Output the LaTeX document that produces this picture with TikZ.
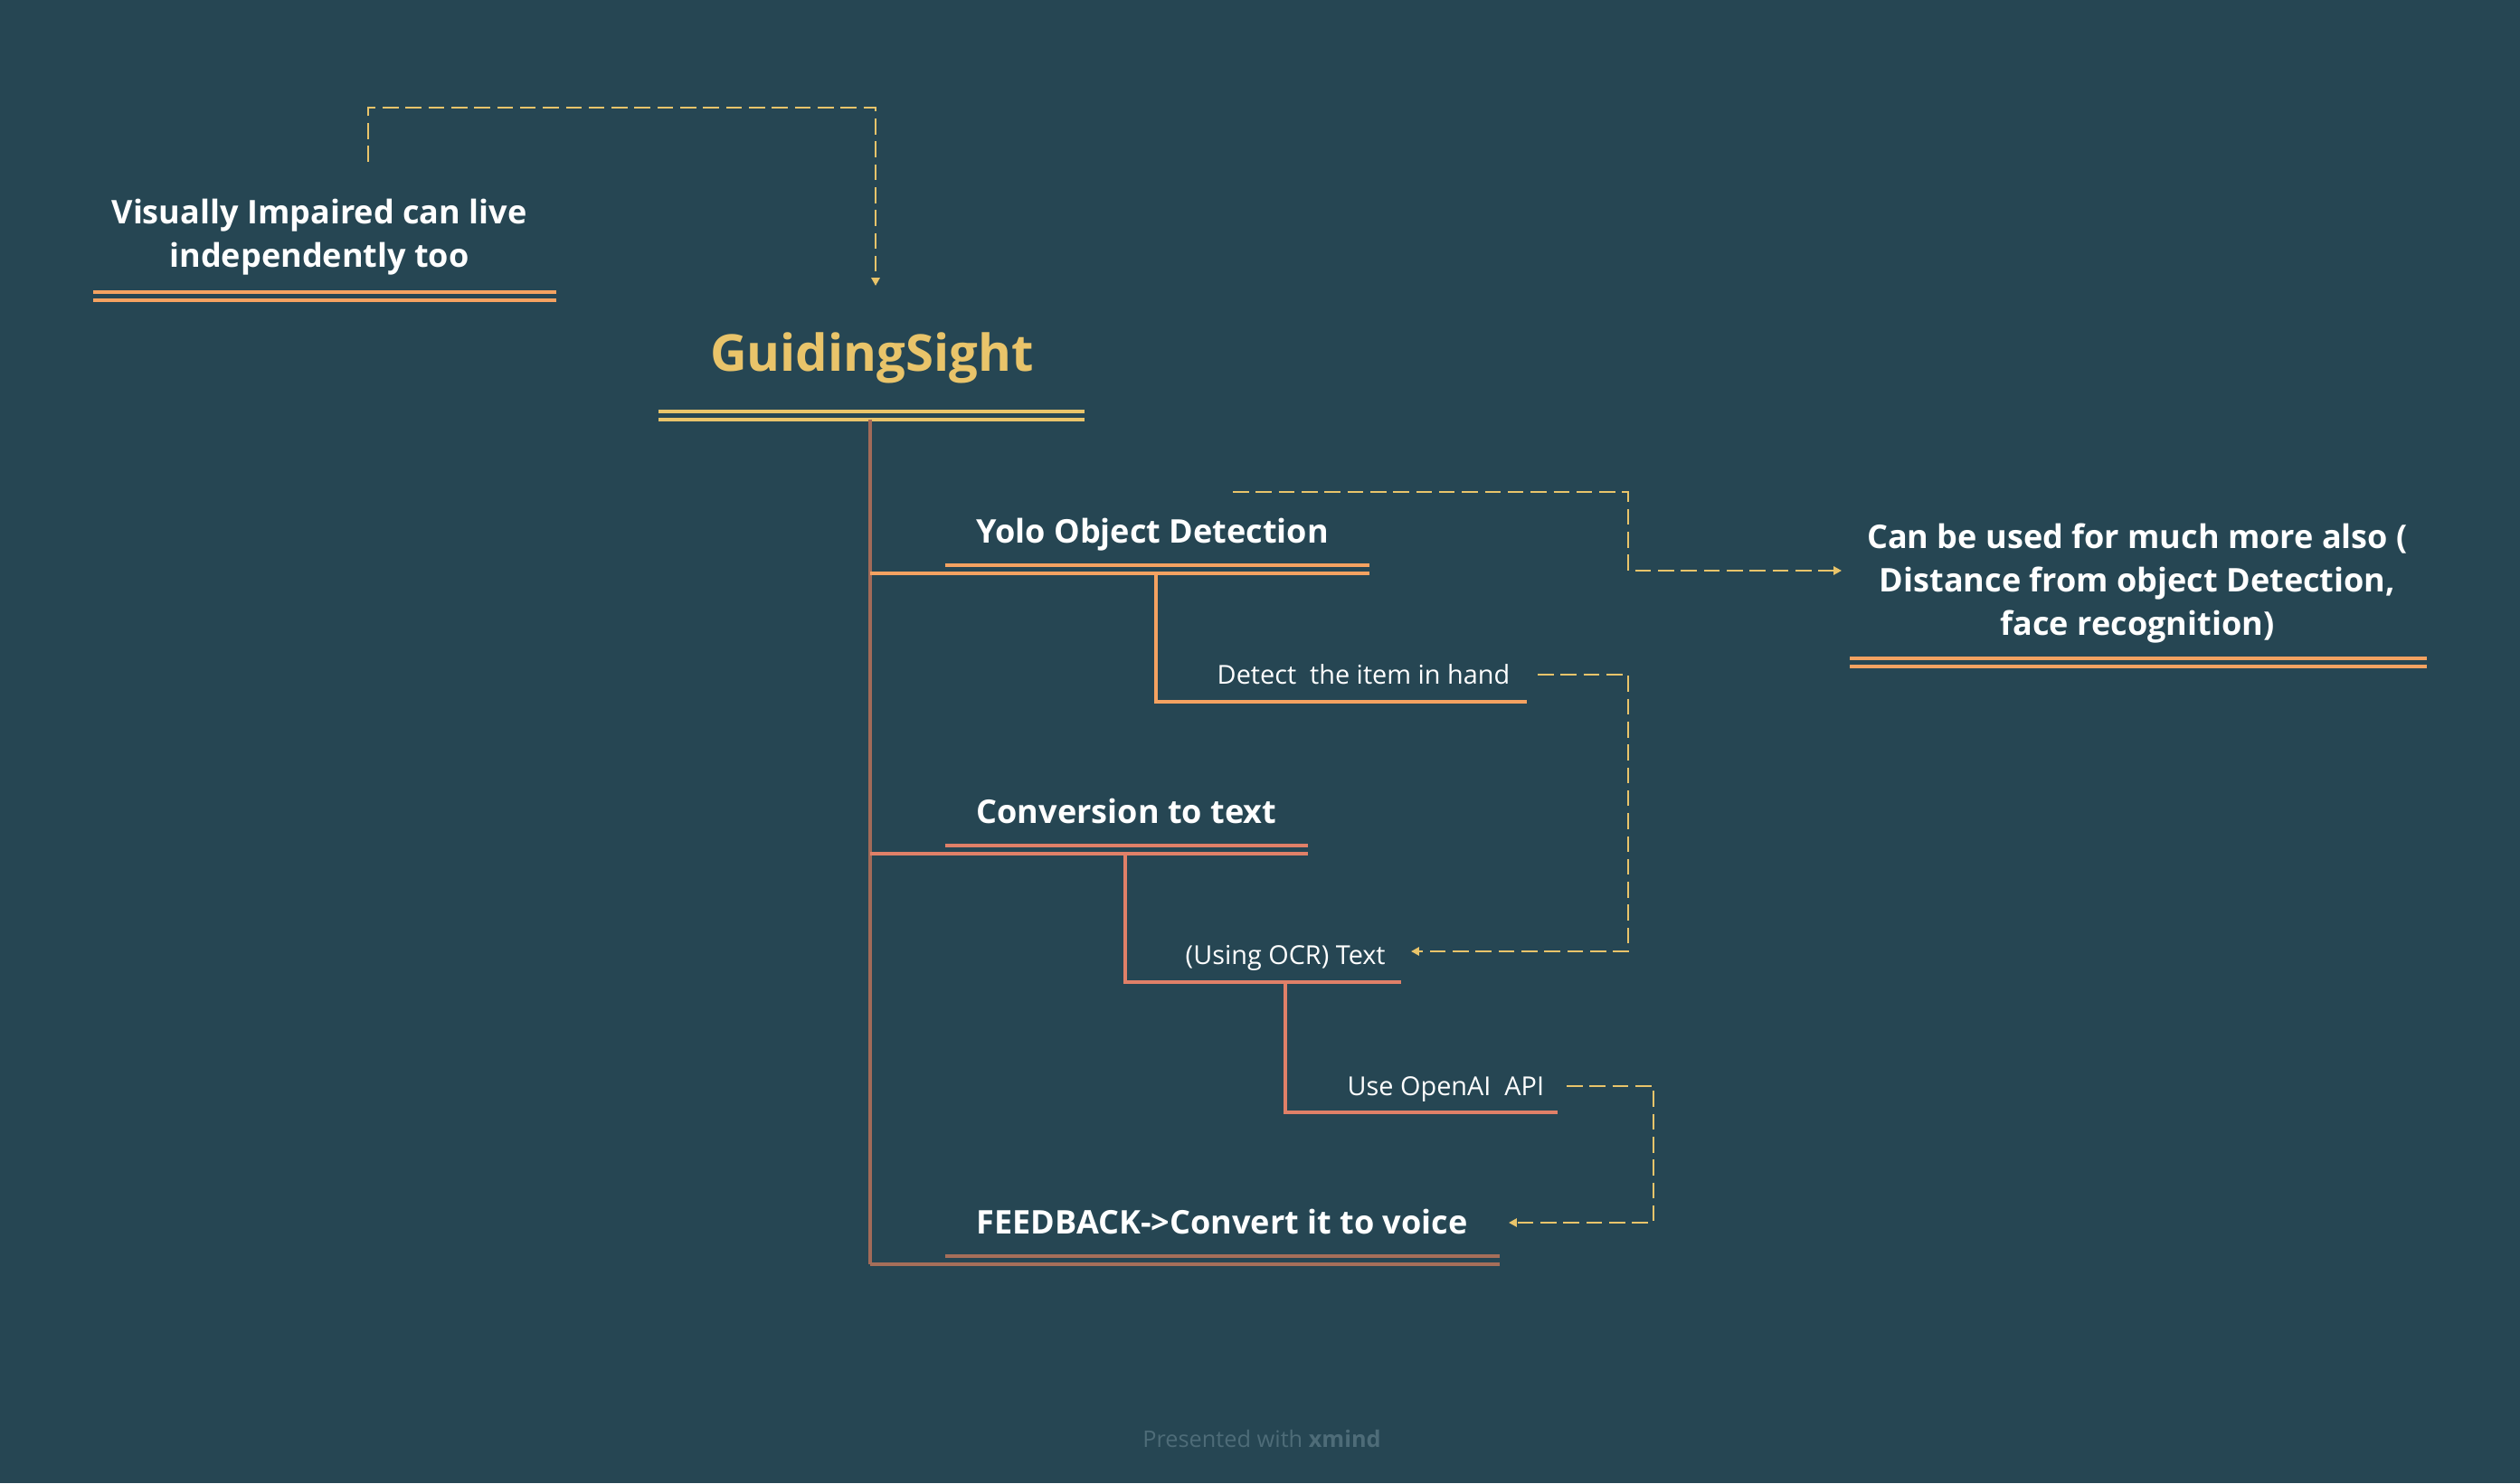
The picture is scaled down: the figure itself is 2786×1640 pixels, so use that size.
\documentclass[tikz,border=0pt]{standalone}
\usepackage{fontspec}
\setmainfont{Open Sans}
\usetikzlibrary{arrows.meta}
\definecolor{bg}{RGB}{38,70,83}
\definecolor{gold}{RGB}{233,196,106}
\definecolor{orng}{RGB}{244,162,97}
\definecolor{salmon}{RGB}{224,128,104}
\definecolor{brownish}{RGB}{166,111,90}
\definecolor{trunkc}{RGB}{163,106,88}
\definecolor{foot}{RGB}{78,108,120}
\begin{document}
\begin{tikzpicture}[x=0.01cm,y=-0.01cm,
  main/.style={font=\bfseries\fontsize{10.25}{13.7}\selectfont, text=white, align=center, inner sep=0},
  subtopic/.style={font=\fontsize{8.2}{10}\selectfont, text=white, inner sep=0},
  link/.style={draw=gold, line width=0.55pt, dash pattern=on 5pt off 2.2pt, -{Triangle[length=2.5pt,width=2.6pt]}},
  ul/.style={line width=1.2pt},
  subl/.style={line width=1pt},
]
\fill[bg] (0,0) rectangle (2786,1640);
\useasboundingbox (0,0) rectangle (2786,1640);

% nodes
\node[main] (vis) at (353,262) {Visually Impaired can live\\independently too};
\node[font=\bfseries\fontsize{16}{20}\selectfont, text=gold, inner sep=0] (gs) at (964,396) {GuidingSight};
\node[main, anchor=west] (yolo) at (1079,591) {Yolo Object Detection};
\node[subtopic, anchor=west] (det) at (1345,746) {Detect\ \ the item in hand};
\node[main, anchor=west] (conv) at (1079,897) {Conversion to text};
\node[subtopic, anchor=west] (ocr) at (1310,1059) {(Using OCR) Text};
\node[subtopic, anchor=west] (api) at (1489,1204) {Use OpenAI\ \ API};
\node[main, anchor=west] (fb) at (1079,1351) {FEEDBACK->Convert it to voice};
\node[main] (more) at (2363,645) {Can be used for much more also (\\Distance from object Detection,\\face recognition)};
\node[font=\fontsize{7.2}{8}\selectfont, text=foot, inner sep=0] (foot) at (1395,1591) {Presented with \textbf{xmind}};

% underlines
\draw[orng, ul] (103,323) -- (615,323) (103,332) -- (615,332);
\draw[gold, ul] (728,455) -- (1199,455) (728,464) -- (1199,464);
\draw[orng, ul] (2045,728) -- (2683,728) (2045,737) -- (2683,737);

% trunk and branches
\draw[trunkc, line width=1.3pt] (962,464) -- (962,1398);
\draw[orng, ul] (1045,625) -- (1514,625) (962,634) -- (1514,634);
\draw[orng, subl] (1278,634) -- (1278,776) -- (1688,776);
\draw[salmon, ul] (1045,935) -- (1446,935) (962,944) -- (1446,944);
\draw[salmon, subl] (1244,944) -- (1244,1086) -- (1549,1086);
\draw[salmon, subl] (1421,1086) -- (1421,1230) -- (1722,1230);
\draw[brownish, ul] (1045,1389) -- (1658,1389) (962,1398) -- (1658,1398);

% dashed relation links
\coordinate (l1s) at (407,179);
\coordinate (l1e) at (968,316);
\draw[link] (l1s) -- (407,119) -- (968,119) -- (l1e);
\coordinate (l2s) at (1363,544);
\coordinate (l2e) at (2036,631);
\draw[link] (l2s) -- (1800,544) -- (1800,631) -- (l2e);
\coordinate (l3s) at (1700,746);
\coordinate (l3e) at (1560,1052);
\draw[link] (l3s) -- (1800,746) -- (1800,1052) -- (l3e);
\coordinate (l4s) at (1732,1201);
\coordinate (l4e) at (1668,1352);
\draw[link] (l4s) -- (1828,1201) -- (1828,1352) -- (l4e);
\end{tikzpicture}
\end{document}
